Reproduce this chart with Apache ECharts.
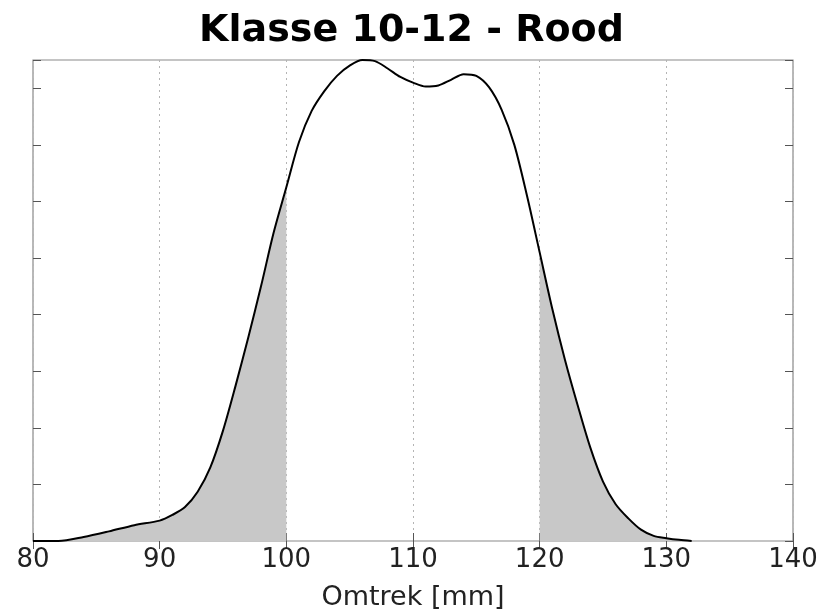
<!DOCTYPE html>
<html>
<head>
<meta charset="utf-8">
<script src="https://cdn.jsdelivr.net/npm/echarts@6/dist/echarts.min.js"></script>
<style>
html,body{margin:0;padding:0;background:#fff;}
#chart{width:823px;height:610px;}
</style>
</head>
<body>
<div id="chart"></div>
<script>
// Data (Omtrek [mm] vs density)
const omtrek = [80,82,84,86,88,90,91,92,93,94,95,96,97,98,99,100,101,102,103,104,105,106,107,108,109,110,111,112,113,114,115,116,117,118,119,120,121,122,123,124,125,126,127,128,129,130,131,132];
const dichtheid = [0,0,0.07,0.17,0.28,0.36,0.46,0.6,0.87,1.3,1.95,2.75,3.6,4.5,5.45,6.25,7.05,7.6,7.95,8.22,8.4,8.5,8.48,8.35,8.2,8.1,8.03,8.05,8.15,8.25,8.22,8.02,7.62,7.0,6.1,5.1,4.1,3.2,2.4,1.65,1.05,0.65,0.4,0.2,0.09,0.05,0.02,0];
const shadeLowMax = 100;
const shadeHighMin = 120;
const xTicks = [80,90,100,110,120,130,140];
const titleText = 'Klasse 10-12 - Rood';
const xName = 'Omtrek [mm]';

const full = omtrek.map((x,i)=>[x,dichtheid[i]]);
const lowPart = full.filter(p=>p[0]<=shadeLowMax);
const highPart = full.filter(p=>p[0]>=shadeHighMin);

const chart = echarts.init(document.getElementById('chart'));
const tickStyle = {show:true, inside:true, length:8, lineStyle:{color:'#555', width:1}};
chart.setOption({
  animation:false,
  backgroundColor:'#fff',
  title:{
    text:titleText, left:'center', top:7,
    textStyle:{fontFamily:'DejaVu Sans', fontWeight:'bold', fontSize:38, color:'#000'}
  },
  grid:{left:33, right:30, top:60, bottom:69, show:true, borderColor:'#8a8a8a', borderWidth:1.2, containLabel:false, outerBoundsMode:'none'},
  xAxis:[{
    type:'value', min:xTicks[0], max:xTicks[xTicks.length-1], interval:10,
    axisLine:{show:false}, axisTick:tickStyle,
    axisLabel:{show:true, margin:6, fontFamily:'DejaVu Sans', fontSize:26, color:'#222'},
    splitLine:{show:true, lineStyle:{color:'#b4b4b4', type:[2,4], width:1}},
    name:xName, nameLocation:'middle', nameGap:43,
    nameTextStyle:{fontFamily:'DejaVu Sans', fontSize:27, color:'#222'}
  },{
    type:'value', position:'top', min:xTicks[0], max:xTicks[xTicks.length-1], interval:10,
    axisLine:{show:false}, axisTick:tickStyle, axisLabel:{show:false}, splitLine:{show:false}
  }],
  yAxis:[{
    type:'value', min:0, max:8.5, interval:1,
    axisLine:{show:false}, axisTick:tickStyle, axisLabel:{show:false}, splitLine:{show:false}
  },{
    type:'value', position:'right', min:0, max:8.5, interval:1,
    axisLine:{show:false}, axisTick:tickStyle, axisLabel:{show:false}, splitLine:{show:false}
  }],
  series:[
    {type:'line', data:lowPart, smooth:0.3, showSymbol:false, lineStyle:{width:0}, areaStyle:{color:'#c8c8c8', opacity:1}, z:2},
    {type:'line', data:highPart, smooth:0.3, showSymbol:false, lineStyle:{width:0}, areaStyle:{color:'#c8c8c8', opacity:1}, z:2},
    {type:'line', data:full, smooth:0.3, showSymbol:false, lineStyle:{color:'#000', width:2}, z:3}
  ]
});
</script>
</body>
</html>
